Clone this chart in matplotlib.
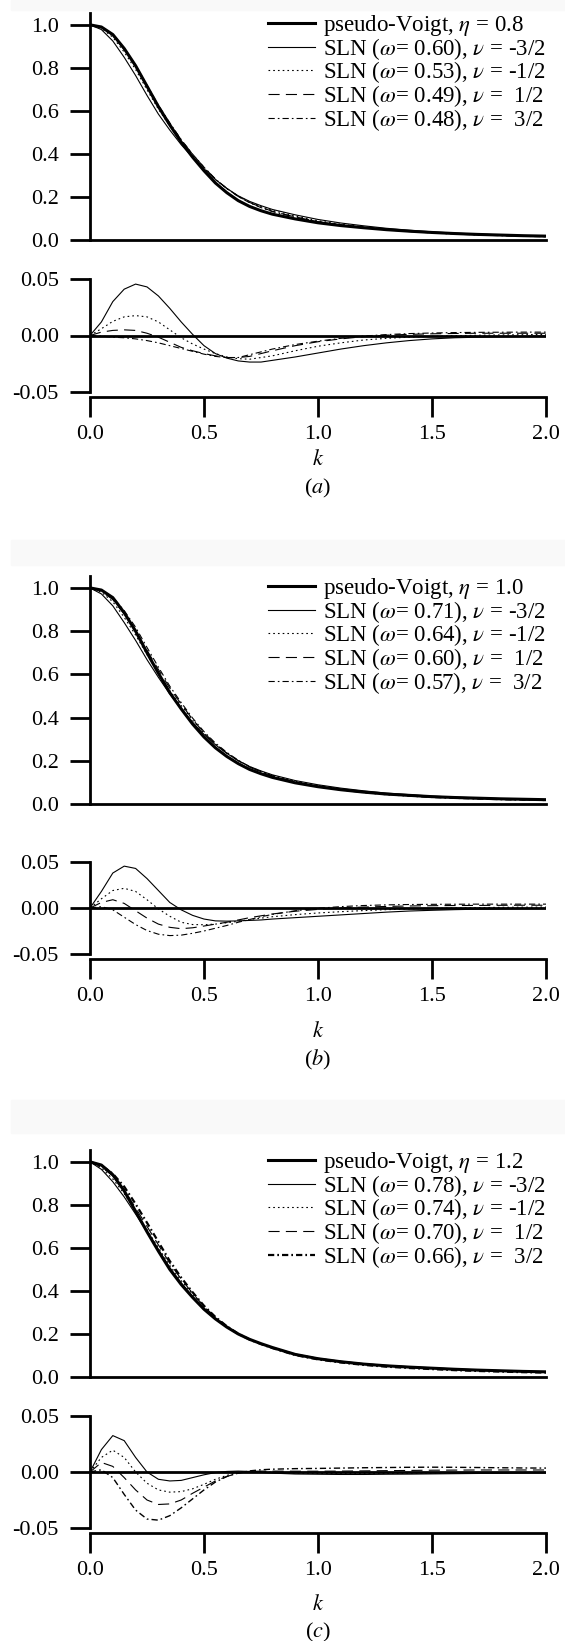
import matplotlib
matplotlib.use("Agg")
import matplotlib.pyplot as plt
from matplotlib.patches import Rectangle

plt.rcParams['font.family'] = ['Liberation Serif', 'DejaVu Serif']
plt.rcParams['mathtext.fontset'] = 'stix'
plt.rcParams['axes.unicode_minus'] = False
plt.rcParams['lines.scale_dashes'] = False

# k grid the values were read at
k_vals = [0.0, 0.05, 0.1, 0.15, 0.2, 0.25, 0.3, 0.35, 0.4, 0.45, 0.5, 0.55, 0.6, 0.65, 0.7,
          0.75, 0.8, 0.9, 1.0, 1.1, 1.2, 1.3, 1.4, 1.5, 1.6, 1.7, 1.8, 1.9, 2.0]

# pseudo-Voigt curves (upper plots)
pv_a = [1.0, 0.99, 0.955, 0.89, 0.81, 0.715, 0.62, 0.535, 0.455, 0.385, 0.322, 0.265, 0.22, 0.183, 0.156,
        0.136, 0.12, 0.098, 0.08, 0.067, 0.057, 0.048, 0.041, 0.035, 0.03, 0.026, 0.023, 0.02, 0.018]
pv_b = [1.0, 0.99, 0.955, 0.885, 0.80, 0.70, 0.605, 0.515, 0.44, 0.37, 0.31, 0.26, 0.22, 0.187, 0.16,
        0.14, 0.123, 0.098, 0.08, 0.066, 0.055, 0.046, 0.04, 0.034, 0.03, 0.027, 0.024, 0.022, 0.02]
pv_c = [1.0, 0.985, 0.94, 0.865, 0.77, 0.675, 0.585, 0.5, 0.43, 0.37, 0.315, 0.27, 0.232, 0.2, 0.175,
        0.155, 0.137, 0.105, 0.085, 0.071, 0.06, 0.052, 0.046, 0.041, 0.036, 0.032, 0.029, 0.026, 0.024]

# differences pV - SLN (lower plots), nu = -3/2, -1/2, 1/2, 3/2
da_m32 = [0, 0.012, 0.030, 0.041, 0.0455, 0.043, 0.035, 0.024, 0.012, 0.001, -0.009, -0.016, -0.020, -0.0225, -0.0235,
          -0.0235, -0.022, -0.019, -0.0155, -0.012, -0.009, -0.0065, -0.0045, -0.003, -0.002, -0.0015, -0.001, -0.0008, -0.0005]
da_m12 = [0, 0.006, 0.0125, 0.0165, 0.0176, 0.0165, 0.012, 0.005, -0.002, -0.0075, -0.012, -0.016, -0.019, -0.0205, -0.021,
          -0.0195, -0.018, -0.0135, -0.0095, -0.0065, -0.004, -0.0025, -0.0015, -0.0008, -0.0002, 0.0002, 0.0005, 0.0007, 0.001]
da_p12 = [0, 0.003, 0.0045, 0.005, 0.0045, 0.002, -0.0015, -0.006, -0.0105, -0.0135, -0.016, -0.018, -0.0195, -0.0195, -0.0185,
          -0.016, -0.0135, -0.009, -0.0055, -0.003, -0.001, 0.0003, 0.001, 0.0015, 0.0018, 0.002, 0.002, 0.002, 0.002]
da_p32 = [0, -0.0005, -0.0015, -0.002, -0.003, -0.0045, -0.0065, -0.009, -0.0115, -0.014, -0.0165, -0.0185, -0.0195, -0.0195, -0.017,
          -0.0145, -0.012, -0.008, -0.005, -0.0025, -0.0005, 0.0008, 0.0017, 0.0022, 0.0026, 0.0028, 0.0029, 0.003, 0.003]

db_m32 = [0, 0.018, 0.038, 0.0455, 0.043, 0.032, 0.019, 0.006, -0.002, -0.008, -0.012, -0.014, -0.0143, -0.014, -0.0135,
          -0.013, -0.012, -0.0105, -0.009, -0.0075, -0.006, -0.0045, -0.0033, -0.0025, -0.0018, -0.0013, -0.001, -0.0007, -0.0005]
db_m12 = [0, 0.01, 0.019, 0.0214, 0.018, 0.009, -0.001, -0.009, -0.0155, -0.018, -0.0182, -0.0175, -0.016, -0.0145, -0.0125,
          -0.011, -0.0095, -0.0072, -0.0054, -0.004, -0.0028, -0.0018, -0.001, -0.0005, 0.0, 0.0004, 0.0007, 0.0009, 0.001]
db_p12 = [0, 0.006, 0.009, 0.005, -0.003, -0.011, -0.0175, -0.021, -0.0225, -0.0215, -0.0196, -0.0175, -0.0155, -0.013, -0.0105,
          -0.0085, -0.0065, -0.0035, -0.0015, 0.0, 0.001, 0.0017, 0.0022, 0.0025, 0.0027, 0.0028, 0.0029, 0.003, 0.003]
db_p32 = [0, 0.0015, -0.002, -0.01, -0.018, -0.0245, -0.0285, -0.030, -0.0295, -0.0275, -0.025, -0.022, -0.019, -0.0155, -0.0125,
          -0.0095, -0.007, -0.003, -0.0003, 0.0015, 0.0027, 0.0034, 0.0038, 0.004, 0.0041, 0.0042, 0.0042, 0.0042, 0.0042]

dc_m32 = [0, 0.02, 0.0325, 0.028, 0.013, 0.0, -0.0065, -0.008, -0.0075, -0.005, -0.0025, -0.0005, 0.0005, 0.0008, 0.0005,
          -0.0003, -0.001, -0.0018, -0.002, -0.0022, -0.0022, -0.002, -0.0019, -0.0017, -0.0015, -0.0013, -0.0011, -0.0009, -0.0008]
dc_m12 = [0, 0.013, 0.0195, 0.013, 0.0, -0.01, -0.016, -0.018, -0.0175, -0.015, -0.011, -0.0065, -0.003, -0.0005, 0.0005,
          0.0003, -0.0003, -0.001, -0.0013, -0.0014, -0.0014, -0.0013, -0.0011, -0.001, -0.0008, -0.0006, -0.0005, -0.0004, -0.0003]
dc_p12 = [0, 0.0085, 0.005, -0.005, -0.016, -0.025, -0.029, -0.0285, -0.025, -0.019, -0.0135, -0.008, -0.004, -0.001, 0.0005,
          0.0008, 0.0008, 0.0007, 0.0007, 0.0008, 0.001, 0.0012, 0.0014, 0.0016, 0.0017, 0.0018, 0.0018, 0.0018, 0.0018]
dc_p32 = [0, 0.002, -0.005, -0.02, -0.034, -0.042, -0.043, -0.039, -0.032, -0.024, -0.016, -0.009, -0.004, -0.001, 0.001,
          0.002, 0.0025, 0.003, 0.0032, 0.0035, 0.0038, 0.004, 0.0042, 0.0043, 0.0042, 0.004, 0.0038, 0.0036, 0.0035]

etas = ['0.8', '1.0', '1.2']
omegas = [['0.60', '0.53', '0.49', '0.48'],
          ['0.71', '0.64', '0.60', '0.57'],
          ['0.78', '0.74', '0.70', '0.66']]
nus = ['-3/2', '-1/2', ' 1/2', ' 3/2']
panel_names = ['a', 'b', 'c']
pvs = [pv_a, pv_b, pv_c]
diffs = [[da_m32, da_m12, da_p12, da_p32],
         [db_m32, db_m12, db_p12, db_p32],
         [dc_m32, dc_m12, dc_p12, dc_p32]]

# pixel layout: top-plot top, top-plot 0.0, lower 0.05, lower -0.05, k label, panel label
layout = [(13, 240, 279, 392, 460, 488),
          (576, 804, 862, 954, 1032, 1060),
          (1150, 1377, 1416, 1528, 1605, 1632)]

W, H = 565, 1641
X0, X1 = 90, 546
FS = 16
FS_LEG = 16.5
styles = [dict(ls='-'), dict(ls=(0, (1.2, 2.2))), dict(ls=(0, (8, 4.5))), dict(ls=(0, (4.5, 2.2, 1.2, 2.2)))]

fig = plt.figure(figsize=(W / 100, H / 100), dpi=100)

# faint scan bands between the panels
for y0, y1 in [(0, 10), (540, 565), (1100, 1133)]:
    fig.patches.append(Rectangle((11 / W, 1 - y1 / H), 1 - 11 / W, (y1 - y0) / H,
                                 transform=fig.transFigure, color='#f9f9f9', zorder=0))


def add_ax(t, b):
    return fig.add_axes([X0 / W, 1 - b / H, (X1 - X0) / W, (b - t) / H])


for p in range(3):
    t0, b0, t1, b1, ky, ly = layout[p]
    top_lw = [0.8, 0.8, 0.8, 1.6 if p == 2 else 0.8]
    low_lw = [0.8, 0.8, 0.8, 1.0 if p == 2 else 0.8]

    # upper plot
    ax = add_ax(t0, b0)
    ax.patch.set_alpha(0)
    handles = []
    h, = ax.plot(k_vals, pvs[p], color='black', lw=2.2, zorder=5,
                 label=r'pseudo-Voigt, $\eta$ = ' + etas[p])
    handles.append(h)
    for j in range(4):
        sln = [v - d for v, d in zip(pvs[p], diffs[p][j])]
        h, = ax.plot(k_vals, sln, color='black', lw=top_lw[j], zorder=4, **styles[j],
                     label=r'SLN ($\omega$= ' + omegas[p][j] + r'), $\nu$ = ' + nus[j])
        handles.append(h)
    ax.set_xlim(0, 2)
    ax.set_ylim(0, 1.055)
    ax.set_yticks([0, 0.2, 0.4, 0.6, 0.8, 1.0])
    ax.set_yticklabels(['%.1f' % v for v in [0, 0.2, 0.4, 0.6, 0.8, 1.0]])
    ax.tick_params(axis='y', direction='out', length=14.4, width=2, pad=8, labelsize=FS)
    ax.tick_params(axis='x', bottom=False, labelbottom=False)
    for s in ['top', 'right']:
        ax.spines[s].set_visible(False)
    for s in ['left', 'bottom']:
        ax.spines[s].set_linewidth(2)
    ax.legend(handles=handles, loc='upper right', bbox_to_anchor=(1.0, 1.0), frameon=False,
              borderpad=0, borderaxespad=0, handlelength=2.05, handletextpad=0.35,
              labelspacing=-0.1, fontsize=FS_LEG)

    # lower plot: differences
    ax2 = add_ax(t1, b1)
    ax2.patch.set_alpha(0)
    ax2.axhline(0, color='black', lw=2, zorder=3)
    for j in range(4):
        ax2.plot(k_vals, diffs[p][j], color='black', lw=low_lw[j], zorder=4, **styles[j])
    ax2.set_xlim(0, 2)
    ax2.set_ylim(-0.05, 0.05)
    ax2.set_yticks([-0.05, 0, 0.05])
    ax2.set_yticklabels(['-0.05', '0.00', '0.05'])
    ax2.set_xticks([0, 0.5, 1.0, 1.5, 2.0])
    ax2.set_xticklabels(['0.0', '0.5', '1.0', '1.5', '2.0'])
    ax2.tick_params(direction='out', length=14.4, width=2, labelsize=FS)
    ax2.tick_params(axis='y', pad=8)
    ax2.tick_params(axis='x', pad=6)
    for s in ['top', 'right']:
        ax2.spines[s].set_visible(False)
    for s in ['left', 'bottom']:
        ax2.spines[s].set_linewidth(2)
    ax2.spines['bottom'].set_position(('outward', 3.6))

    xc = (X0 + X1) / 2 / W
    fig.text(xc, 1 - ky / H, r'$k$', ha='center', va='center', fontsize=FS)
    fig.text(xc, 1 - ly / H, r'($' + panel_names[p] + r'$)', ha='center', va='center', fontsize=FS)

fig.savefig('out.png', dpi=100)
